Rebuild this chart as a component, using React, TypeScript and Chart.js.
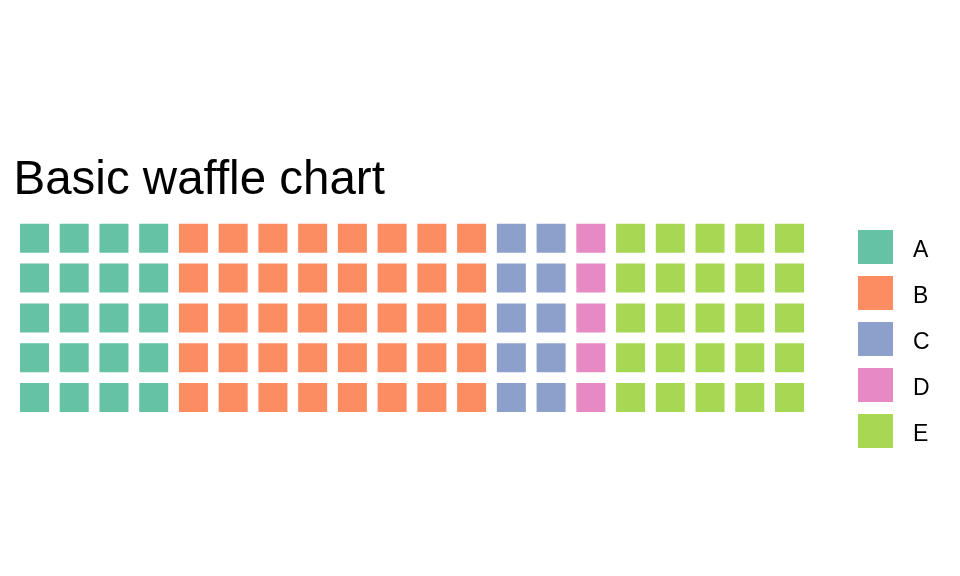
import React, { useEffect, useRef } from "react";
import { Chart, registerables } from "chart.js";

Chart.register(...registerables);

const categories = ["A", "B", "C", "D", "E"];
const counts = [20, 40, 10, 5, 25];
const colors = ["#66C2A5", "#FC8D62", "#8DA0CB", "#E78AC3", "#A6D854"];
const titleText = "Basic waffle chart";
const nRows = 5;
const nCols = 20;

function buildDatasets() {
  let idx = 0;
  return categories.map((cat, ci) => {
    const pts: { x: number; y: number }[] = [];
    for (let k = 0; k < counts[ci]; k++) {
      const col = Math.floor(idx / nRows);
      const row = idx % nRows;
      pts.push({ x: col, y: row });
      idx++;
    }
    return {
      label: cat,
      data: pts,
      pointStyle: "rect" as const,
      pointRadius: 29 / Math.SQRT2,
      pointHoverRadius: 29 / Math.SQRT2,
      backgroundColor: colors[ci],
      borderWidth: 0,
      pointBorderWidth: 0,
    };
  });
}

const overlayPlugin = {
  id: "overlay",
  afterDraw(chart: any) {
    const ctx = chart.ctx as CanvasRenderingContext2D;
    ctx.save();
    ctx.fillStyle = "#000000";
    ctx.textBaseline = "alphabetic";
    ctx.textAlign = "left";
    ctx.font = '47.5px "Liberation Sans", Arial, sans-serif';
    ctx.fillText(titleText, 13.5, 194);
    ctx.font = '23px "Liberation Sans", Arial, sans-serif';
    categories.forEach((cat, i) => {
      const y = 230 + 46 * i;
      ctx.fillStyle = colors[i];
      ctx.fillRect(858, y, 35, 34);
      ctx.fillStyle = "#000000";
      ctx.fillText(cat, 913, y + 27);
    });
    ctx.restore();
  },
};

export default function App() {
  const ref = useRef<HTMLCanvasElement | null>(null);
  useEffect(() => {
    document.body.style.margin = "0";
    if (!ref.current) return;
    const chart = new Chart(ref.current, {
      type: "scatter",
      data: { datasets: buildDatasets() as any },
      options: {
        animation: false,
        responsive: true,
        maintainAspectRatio: false,
        layout: { autoPadding: false, padding: { left: 14.6, right: 150.6, top: 218.4, bottom: 158.6 } },
        plugins: {
          legend: { display: false },
          tooltip: { enabled: false },
          title: { display: false },
        },
        scales: {
          x: { type: "linear", min: -0.5, max: nCols - 0.5, display: false },
          y: { type: "linear", min: -0.5, max: nRows - 0.5, reverse: true, display: false },
        },
      },
      plugins: [overlayPlugin],
    });
    return () => chart.destroy();
  }, []);
  return (
    <div style={{ width: 960, height: 576, position: "relative", background: "#fff" }}>
      <canvas ref={ref} />
    </div>
  );
}
